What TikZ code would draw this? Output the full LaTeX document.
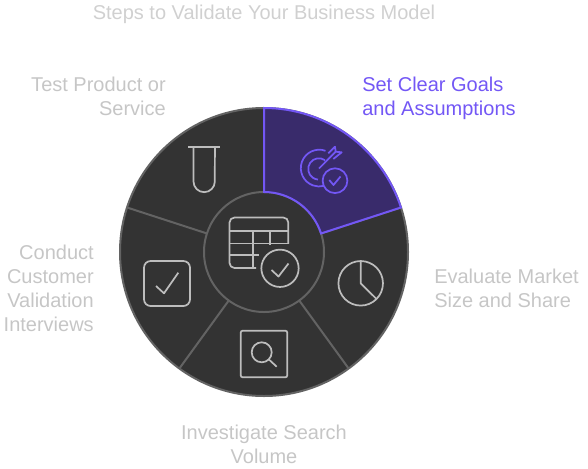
\documentclass[tikz,border=0pt]{standalone}
\usepackage{fontspec}
\usetikzlibrary{calc}
\setmainfont{Liberation Sans}
\definecolor{discfill}{HTML}{333333}
\definecolor{discline}{HTML}{636363}
\definecolor{iconline}{HTML}{BDBDBD}
\definecolor{labelgray}{HTML}{C6C6C6}
\definecolor{titlegray}{HTML}{D0D0D0}
\definecolor{accent}{HTML}{7357F5}
\definecolor{accentfill}{HTML}{392B6B}
\tikzset{
  x=0.75pt,y=-0.75pt,
  spoke/.style={draw=discline,line width=1.5pt},
  icon/.style={draw=iconline,line width=1.3pt,line join=round},
  accicon/.style={draw=accent,line width=1.3pt,line join=round},
  lbl/.style={font=\fontsize{15pt}{18pt}\selectfont,text=labelgray,inner sep=0pt},
  titlelbl/.style={font=\fontsize{15pt}{18pt}\selectfont,text=titlegray,inner sep=0pt}
}
\begin{document}
\begin{tikzpicture}
\useasboundingbox (0,0) rectangle (588,468);
\coordinate (c) at (264,252);
\def\Ro{108pt}
\def\Ri{45pt}
% disc
\fill[discfill] (c) circle[radius=\Ro];
\foreach \a in {18,-54,-126,162}{
  \draw[spoke] ($(c)+(\a:\Ri)$) -- ($(c)+(\a:\Ro)$);
}
\draw[spoke] (c) circle[radius=\Ro];
\draw[spoke] (c) circle[radius=\Ri];
% highlighted sector
\draw[draw=accent,fill=accentfill,line width=1.5pt,line join=miter]
  ($(c)+(90:\Ri)$) -- ($(c)+(90:\Ro)$) arc[start angle=90,end angle=18,radius=\Ro]
  -- ($(c)+(18:\Ri)$) arc[start angle=18,end angle=90,radius=\Ri] -- cycle;
% target icon
\draw[accicon] (325.5,150.8) arc[start angle=70,end angle=285,radius=13.8pt];
\draw[accicon] (325,160.2) arc[start angle=55,end angle=265,radius=8pt];
\draw[accicon] (319,168.5) -- (335.7,151.7);
\draw[accicon] (328.3,153.3) -- (335,146.7) -- (335.7,151.7) -- (341.7,152.3) -- (333.3,159);
\draw[accicon] (335,180.7) circle[radius=9.3pt];
\draw[accicon] (329.3,180) -- (333.5,185) -- (340.5,176.5);
% test tube
\draw[icon] (188.3,146.7) -- (220,146.7);
\draw[icon] (193.5,146.7) -- (193.5,181.5) arc[start angle=180,end angle=360,radius=8pt] -- (214.9,146.7);
% centre table
\draw[icon] (288.3,243.8) -- (288.3,222.5) arc[start angle=0,end angle=90,radius=3.75pt] -- (234.5,217.5) arc[start angle=90,end angle=180,radius=3.75pt] -- (229.5,263) arc[start angle=180,end angle=270,radius=3.75pt] -- (256,268);
\draw[icon] (229.5,230.7) -- (288.3,230.7);
\draw[icon] (229.5,243.5) -- (288.3,243.5);
\draw[icon] (229.5,255) -- (258.5,255);
\draw[icon] (253.3,230.7) -- (253.3,268);
\draw[icon] (270,230.7) -- (270,244.5);
\draw[icon,fill=discfill] (280,268.3) circle[radius=14pt];
\draw[icon] (271.5,270) -- (278.5,276.5) -- (288.5,263.5);
% pie
\draw[icon] (360.7,283.3) circle[radius=16.7pt];
\draw[icon] (360.7,261) -- (360.7,283.3) -- (376.5,299);
% search
\draw[icon,rounded corners=1.5pt] (240.7,330.7) rectangle (287.3,377.3);
\draw[icon] (261.7,352.3) circle[radius=7.5pt];
\draw[icon] (268.8,359.4) -- (276.7,366.7);
% checkbox
\draw[icon,rounded corners=5pt] (144,261) rectangle (190,306);
\draw[icon] (156,286) -- (164,293.3) -- (178.3,272.7);
% labels
\node[titlelbl,anchor=center] (title) at (264,14) {Steps to Validate Your Business Model};
\node[lbl,anchor=west,align=left,text=accent] (goals) at (362,98) {Set Clear Goals\\and Assumptions};
\node[lbl,anchor=east,align=right] (test) at (166,96) {Test Product or\\Service};
\node[lbl,anchor=west,align=left] (market) at (434,288) {Evaluate Market\\Size and Share};
\node[lbl,anchor=east,align=right] (customer) at (94,288) {Conduct\\Customer\\Validation\\Interviews};
\node[lbl,anchor=center,align=center] (search) at (264,444) {Investigate Search\\Volume};
\end{tikzpicture}
\end{document}
